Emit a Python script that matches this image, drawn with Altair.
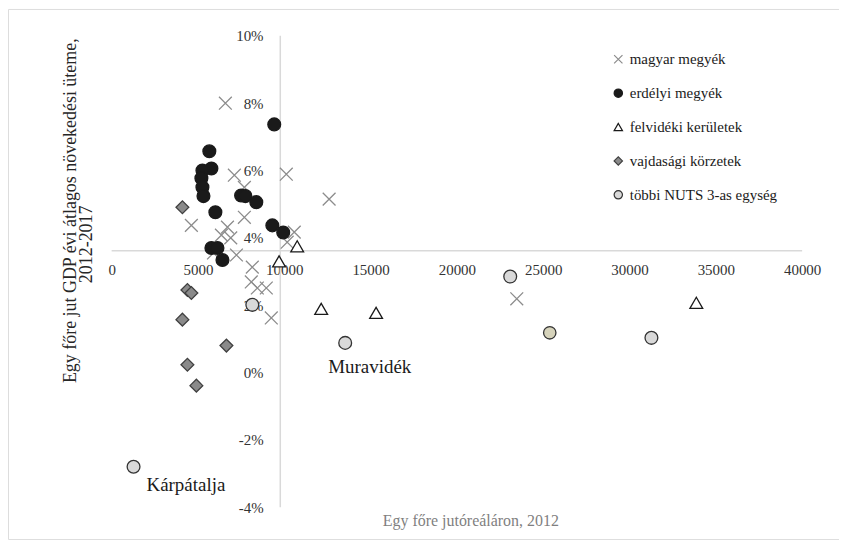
import altair as alt
import pandas as pd

FONT = "Liberation Serif"

csoportok = ["magyar megyék", "erdélyi megyék", "felvidéki kerületek",
             "vajdasági körzetek", "többi NUTS 3-as egység"]

magyar_x = [6590, 7110, 10120, 12600, 4620, 7690, 7690, 6710, 6360, 7230,
            8150, 10580, 10170, 8090, 8440, 8960, 9250, 23470, 6900, 5900]
magyar_y = [8.0, 5.86, 5.89, 5.15, 4.37, 5.50, 4.61, 4.32, 4.08, 3.49,
            3.13, 4.17, 3.87, 2.69, 2.51, 2.51, 1.62, 2.19, 4.0, 3.55]

erdelyi_x = [9420, 5660, 5780, 5260, 5200, 5260, 5320, 6010, 7500, 7750,
             8380, 9310, 9940, 5780, 6130, 6420]
erdelyi_y = [7.37, 6.57, 6.06, 6.00, 5.77, 5.50, 5.24, 4.76, 5.26, 5.24,
             5.06, 4.37, 4.16, 3.70, 3.70, 3.34]

felvideki_x = [10750, 9700, 12140, 15320, 33870]
felvideki_y = [3.75, 3.30, 1.89, 1.77, 2.07]

vajdasagi_x = [4100, 4390, 4620, 4100, 6650, 4390, 4910]
vajdasagi_y = [4.91, 2.45, 2.36, 1.57, 0.80, 0.23, -0.39]

tobbi_x = [1270, 8150, 13530, 23090, 31270]
tobbi_y = [-2.80, 2.01, 0.88, 2.85, 1.03]
tobbi_nev = ["Kárpátalja", "", "Muravidék", "", ""]

kiemelt_x = [25380]
kiemelt_y = [1.18]

x_ticks = [0, 5000, 10000, 15000, 20000, 25000, 30000, 35000, 40000]
y_ticks = [-4, -2, 0, 2, 4, 6, 8, 10]

kozep_x = 9770
kozep_y = 3.62

shapes = ["M-1,-1L1,1M-1,1L1,-1", "circle", "triangle-up", "diamond", "circle"]
fills = ["transparent", "#1a1a1a", "#ffffff", "#8a8a8a", "#d9d9d9"]
strokes = ["#8c8c8c", "#1a1a1a", "#1a1a1a", "#404040", "#333333"]

rows = []
for g, xs_, ys_ in zip(csoportok,
                       [magyar_x, erdelyi_x, felvideki_x, vajdasagi_x, tobbi_x],
                       [magyar_y, erdelyi_y, felvideki_y, vajdasagi_y, tobbi_y]):
    for a, b in zip(xs_, ys_):
        rows.append({"csoport": g, "gdp": a, "novekedes": b})
df = pd.DataFrame(rows)

df_kiemelt = pd.DataFrame({"gdp": kiemelt_x, "novekedes": kiemelt_y})
df_nev = pd.DataFrame({"gdp": tobbi_x, "novekedes": tobbi_y, "nev": tobbi_nev})

W, H = 834, 532
xscale = alt.Scale(domain=[-6003, 42136], nice=False, zero=False)
yscale = alt.Scale(domain=[-4.947, 10.799], nice=False, zero=False)

x_axis = alt.Axis(values=x_ticks, format="d", domain=False, ticks=False, grid=False,
                  offset=-289.5, labelPadding=12, labelFont=FONT, labelFontSize=15,
                  labelColor="#333333", labelOverlap=False, labelFlush=False,
                  title="Egy főre jutóreáláron, 2012", titleX=464, titleY=271,
                  titleBaseline="middle", titleFont=FONT, titleFontSize=16,
                  titleFontWeight="normal", titleColor="#7f7f7f")

y_axis = alt.Axis(values=y_ticks, labelExpr="datum.value + '%'", domain=False,
                  ticks=False, grid=False, offset=-273, labelPadding=17,
                  labelFont=FONT, labelFontSize=15, labelColor="#333333",
                  labelOverlap=False, labelFlush=False,
                  title=["Egy főre jut GDP évi átlagos növekedési üteme,",
                         "2012-2017" + "\u00a0" * 15 + "\u200b"],
                  titleX=-210, titleY=202, titleAngle=-90, titleAlign="center",
                  titleBaseline="middle", titleLineHeight=16, titleFont=FONT,
                  titleFontSize=18, titleFontWeight="normal", titleColor="#262626")

legend = alt.Legend(orient="none", legendX=605, legendY=43, title=None,
                    labelFont=FONT, labelFontSize=15, labelColor="#1a1a1a",
                    symbolSize=70, symbolStrokeWidth=1.2, rowPadding=18,
                    padding=0, labelOffset=4)

rule_v = alt.Chart(pd.DataFrame({"a": [0]})).mark_rule(color="#d9d9d9", strokeWidth=1.5).encode(
    x=alt.datum(kozep_x), y=alt.datum(-4), y2=alt.datum(10))
rule_h = alt.Chart(pd.DataFrame({"a": [0]})).mark_rule(color="#d9d9d9", strokeWidth=1.5).encode(
    y=alt.datum(kozep_y), x=alt.datum(0), x2=alt.datum(40000))

points = alt.Chart(df).mark_point(size=165, strokeWidth=1.3, opacity=1).encode(
    x=alt.X("gdp:Q", scale=xscale, axis=x_axis),
    y=alt.Y("novekedes:Q", scale=yscale, axis=y_axis),
    shape=alt.Shape("csoport:N", scale=alt.Scale(domain=csoportok, range=shapes), legend=legend),
    fill=alt.Fill("csoport:N", scale=alt.Scale(domain=csoportok, range=fills), legend=legend),
    stroke=alt.Stroke("csoport:N", scale=alt.Scale(domain=csoportok, range=strokes), legend=legend),
)

kiemelt = alt.Chart(df_kiemelt).mark_point(size=155, strokeWidth=1.3, opacity=1, shape="circle",
                                          fill="#d6d3bb", stroke="#333333").encode(
    x="gdp:Q", y="novekedes:Q")

nev_mura = alt.Chart(df_nev).transform_filter(alt.datum.nev == "Muravidék").mark_text(
    align="left", baseline="alphabetic", dx=-17, dy=30, font=FONT, fontSize=19, color="#1a1a1a"
).encode(x="gdp:Q", y="novekedes:Q", text="nev:N")

nev_karp = alt.Chart(df_nev).transform_filter(alt.datum.nev == "Kárpátalja").mark_text(
    align="left", baseline="alphabetic", dx=13, dy=24, font=FONT, fontSize=19, color="#1a1a1a"
).encode(x="gdp:Q", y="novekedes:Q", text="nev:N")

chart = alt.layer(rule_v, rule_h, points, kiemelt, nev_mura, nev_karp).properties(
    width=W, height=H, autosize=alt.AutoSizeParams(type="none"),
    padding={"left": 0, "top": 0, "right": 0, "bottom": 0},
).configure_view(stroke="#000000", strokeWidth=1).configure_legend(
    labelFont=FONT, labelFontSize=15
).configure(background="white")

chart.save("out.html", embed_options={"renderer": "svg", "actions": False})
